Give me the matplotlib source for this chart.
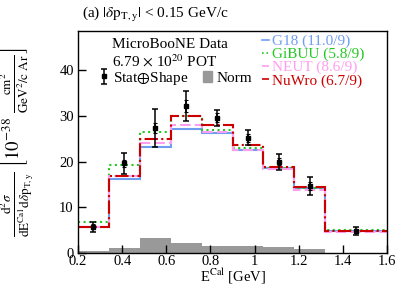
import numpy as np
import matplotlib
matplotlib.use('Agg')
import matplotlib.pyplot as plt
from matplotlib.patches import Patch

plt.rcParams['font.family'] = ['Liberation Serif', 'DejaVu Serif']
plt.rcParams['mathtext.fontset'] = 'stix'

# bin edges in E^Cal [GeV]
edges = [0.2, 0.34, 0.48, 0.62, 0.76, 0.90, 1.04, 1.18, 1.32, 1.6]

# data, 10^-38 cm2 / (GeV^2/c Ar)
data = [5.75, 19.6, 27.3, 32.2, 29.6, 25.2, 20.0, 14.7, 4.9]
err_tot = [1.1, 2.3, 4.2, 3.2, 1.75, 1.65, 1.75, 2.0, 0.9]
err_stat = [0.5, 0.8, 1.1, 1.3, 1.0, 0.9, 0.8, 0.8, 0.4]
norm = [0.45, 1.0, 3.35, 2.1, 1.6, 1.5, 1.25, 0.8, 0.0]

g18 = [5.75, 16.1, 23.1, 27.1, 26.2, 22.6, 18.5, 14.3, 4.9]
gibuu = [6.7, 19.3, 26.5, 29.9, 26.9, 22.9, 18.5, 14.3, 5.0]
neut = [5.7, 16.8, 24.1, 28.1, 26.5, 22.6, 18.3, 13.8, 4.6]
nuwro = [5.75, 16.9, 24.9, 30.0, 28.0, 23.6, 18.75, 14.4, 4.9]

labels = ['G18 (11.0/9)', 'GiBUU (5.8/9)', 'NEUT (8.6/9)', 'NuWro (6.7/9)']
colors = ['#6f9df2', '#22c922', '#ff9ef0', '#cc0000']
styles = ['-', ':', (0, (5, 2)), '-.']

centers = [(edges[i] + edges[i + 1]) / 2 for i in range(len(data))]

fig = plt.figure(figsize=(4.07, 2.95), dpi=100)
ax = fig.add_axes([78 / 407, 42 / 295, 309 / 407, 222 / 295])

ax.stairs(norm, edges, fill=True, color='#999999', lw=0)

lines = []
for vals, c, ls, lab in zip([g18, gibuu, neut, nuwro], colors, styles, labels):
    ax.stairs(vals, edges, color=c, ls=ls, lw=1.5, baseline=None)
    lines.append(plt.Line2D([], [], color=c, ls=ls, lw=1.2))

eb = ax.errorbar(centers, data, yerr=err_tot, fmt='s', color='black', ms=2.2,
                 capsize=2, elinewidth=1.1, capthick=1.1)
ax.errorbar(centers, data, yerr=err_stat, fmt='none', ecolor='black',
            capsize=1.5, elinewidth=1.1, capthick=0.8)

ax.set_xlim(0.2, 1.6)
ax.set_ylim(0, 48.6)
ax.set_xticks([0.2, 0.4, 0.6, 0.8, 1.0, 1.2, 1.4, 1.6])
ax.set_xticklabels(['0.2', '0.4', '0.6', '0.8', '1', '1.2', '1.4', '1.6'])
ax.set_yticks([0, 10, 20, 30, 40])
ax.tick_params(direction='in', length=6, width=1, labelsize=10.5)
ax.tick_params(axis='x', pad=1.5)
ax.tick_params(axis='y', pad=3)
for s in ax.spines.values():
    s.set_linewidth(1)

ax.set_xlabel(r'E$^{\mathrm{Cal}}$ [GeV]', fontsize=10.5, labelpad=-1)
ax.set_ylabel(r'$\frac{\mathrm{d}^{2}\sigma}{\mathrm{dE}^{\mathrm{Cal}}\,\mathrm{d}\delta\mathrm{p}_{\mathrm{T,y}}}\ '
              r'\left[10^{-38}\ \frac{\mathrm{cm}^{2}}{\mathrm{GeV}^{2}/\mathrm{c\ Ar}}\right]$',
              fontsize=13.5)
ax.yaxis.set_label_coords(-0.135, 0.5)

fig.text(82 / 407, 1 - 15 / 295, r'(a) $|\delta\mathrm{p}_{\mathrm{T,y}}|$ < 0.15 GeV/c',
         fontsize=11, va='center')

ax.text(0.11, 0.941, 'MicroBooNE Data', transform=ax.transAxes, fontsize=11, va='center')
ax.text(0.11, 0.865, r'6.79 $\times$ 10$^{20}$ POT', transform=ax.transAxes, fontsize=11, va='center')

leg1 = ax.legend([eb, Patch(color='#999999')], [r'Stat$\oplus$Shape', 'Norm'],
                 loc='center left', bbox_to_anchor=(0.07, 0.788), ncol=2, frameon=False,
                 fontsize=11, handlelength=0.6, handletextpad=0.25, columnspacing=1.0,
                 borderpad=0, borderaxespad=0)
ax.add_artist(leg1)

leg2 = ax.legend(lines, labels, loc='upper left', bbox_to_anchor=(0.595, 0.985), frameon=False,
                 fontsize=11, handlelength=0.5, handletextpad=0.15, labelspacing=-0.05,
                 borderpad=0, borderaxespad=0)
for t, c in zip(leg2.get_texts(), colors):
    t.set_color(c)

fig.savefig('out.png', dpi=100)
